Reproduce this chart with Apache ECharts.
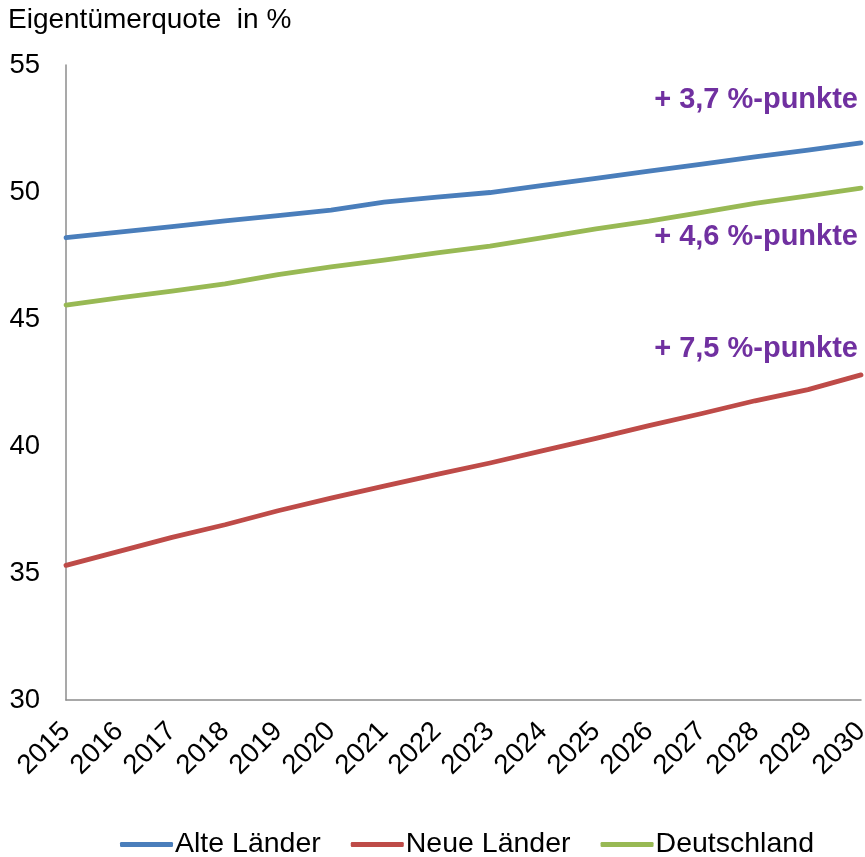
<!DOCTYPE html>
<html>
<head>
<meta charset="utf-8">
<script src="https://cdn.jsdelivr.net/npm/echarts@6/dist/echarts.min.js"></script>
<style>
  html, body { margin: 0; padding: 0; background: #ffffff; }
  #chart { width: 865px; height: 857px; }
</style>
</head>
<body>
<div id="chart"></div>
<script>
// Owner-occupancy rate projections, 2015–2030
const years = ['2015', '2016', '2017', '2018', '2019', '2020', '2021', '2022',
               '2023', '2024', '2025', '2026', '2027', '2028', '2029', '2030'];
const alteLaender = [48.2, 48.42, 48.64, 48.86, 49.07, 49.29, 49.6, 49.8,
                     49.98, 50.26, 50.54, 50.82, 51.1, 51.38, 51.65, 51.93];
const neueLaender = [35.3, 35.85, 36.4, 36.9, 37.45, 37.95, 38.42, 38.88,
                     39.33, 39.82, 40.3, 40.8, 41.28, 41.78, 42.22, 42.8];
const deutschland = [45.55, 45.83, 46.1, 46.38, 46.75, 47.05, 47.32, 47.6,
                     47.87, 48.2, 48.55, 48.85, 49.2, 49.55, 49.85, 50.15];
const seriesNames = ['Alte Länder', 'Neue Länder', 'Deutschland'];
const yTicks = [30, 35, 40, 45, 50, 55];
const yTitle = 'Eigentümerquote  in %';

const FONT = '"Liberation Sans", Arial, sans-serif';
const colors = ['#4a7ebb', '#be4b48', '#98b954'];

// change over the whole period, in percentage points
function delta(arr) {
  return '+ ' + (arr[arr.length - 1] - arr[0]).toFixed(1).replace('.', ',') + ' %-punkte';
}

function lineSeries(name, data, color) {
  return {
    name: name,
    type: 'line',
    data: data,
    showSymbol: false,
    symbol: 'none',
    smooth: false,
    lineStyle: { color: color, width: 4.8, cap: 'round', join: 'round' },
    itemStyle: { color: color },
    emphasis: { disabled: true }
  };
}

function annotation(text, top) {
  return {
    type: 'text',
    right: 7,
    top: top,
    style: {
      text: text,
      fill: '#7030a0',
      font: 'bold 29px ' + FONT
    }
  };
}

const chart = echarts.init(document.getElementById('chart'), null, { renderer: 'canvas' });
chart.setOption({
  animation: false,
  backgroundColor: '#ffffff',
  title: {
    text: yTitle,
    left: 8,
    top: 6,
    padding: 0,
    textStyle: { fontFamily: FONT, fontSize: 28, fontWeight: 'normal', color: '#000000' }
  },
  grid: { left: 66, right: 4, top: 65, bottom: 157, containLabel: false, outerBoundsMode: 'none' },
  legend: {
    data: seriesNames,
    left: 120,
    top: 830,
    padding: 0,
    icon: 'roundRect',
    itemWidth: 53,
    itemHeight: 5,
    itemGap: 30,
    textStyle: { fontFamily: FONT, fontSize: 28.5, color: '#000000', padding: [0, 0, 0, -3] }
  },
  xAxis: {
    type: 'category',
    data: years,
    boundaryGap: false,
    axisLine: { lineStyle: { color: '#8c8c8c', width: 1.5 } },
    axisTick: { show: false },
    splitLine: { show: false },
    axisLabel: {
      interval: 0,
      rotate: 45,
      margin: 27,
      fontFamily: FONT,
      fontSize: 27.5,
      color: '#000000'
    }
  },
  yAxis: {
    type: 'value',
    min: yTicks[0],
    max: yTicks[yTicks.length - 1],
    interval: 5,
    axisLine: { show: true, lineStyle: { color: '#8c8c8c', width: 1.5 } },
    axisTick: { show: false },
    splitLine: { show: false },
    axisLabel: {
      margin: 26,
      fontFamily: FONT,
      fontSize: 27.5,
      color: '#000000'
    }
  },
  series: [
    lineSeries(seriesNames[0], alteLaender, colors[0]),
    lineSeries(seriesNames[1], neueLaender, colors[1]),
    lineSeries(seriesNames[2], deutschland, colors[2])
  ],
  graphic: [
    annotation(delta(alteLaender), 85),
    annotation(delta(deutschland), 222),
    annotation(delta(neueLaender), 334)
  ]
});
</script>
</body>
</html>
